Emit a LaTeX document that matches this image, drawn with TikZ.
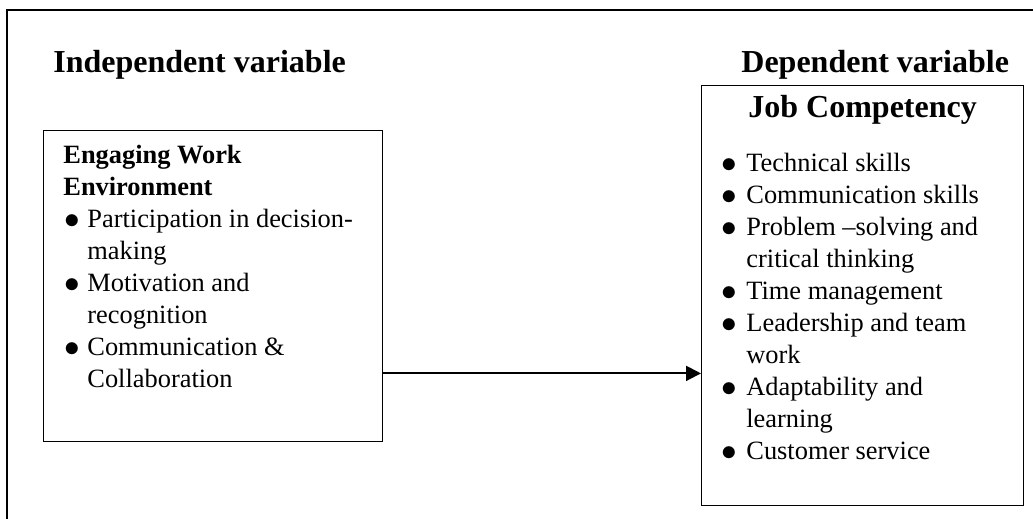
\documentclass[tikz,border=0pt]{standalone}
\usepackage{fontspec}
\setmainfont{Liberation Serif}
\usetikzlibrary{arrows.meta}
\newcommand{\bul}[1][12pt]{\makebox[#1][l]{\hspace{0.5pt}\raisebox{-0.3pt}{\scalebox{1.3}{$\bullet$}}}}
\newcommand{\nobul}[1][12pt]{\hspace*{#1}}

\begin{document}
\begin{tikzpicture}[x=0.5pt, y=0.5pt,
	box/.style={draw, line width=0.7pt, inner sep=0pt, anchor=north west},
	head/.style={anchor=base west, inner sep=0pt, font=\fontsize{16}{19}\selectfont\bfseries},
	items/.style={anchor=base west, inner sep=0pt, align=left, font=\fontsize{13.2}{16}\selectfont}]
	
	\useasboundingbox (0,0) rectangle (1033,519);
	\draw [line width=1pt] (7,0) |- (1033,509);
	
	\node [head] (ivhead) at (53,446) {Independent variable};
	\node [head] (dvhead) at (741,446) {Dependent variable};
	
	% multi-line nodes: base is the last line
	\node [box, minimum width=169.5pt, minimum height=155.5pt] (iv) at (43,389) {};
	\node [items] (ivtext) at (63,131) {\textbf{Engaging Work}\\
		\textbf{Environment}\\
		\bul Participation in decision-\\
		\nobul making\\
		\bul Motivation and\\
		\nobul recognition\\
		\bul Communication \&\\
		\nobul Collaboration};
	
	\node [box, minimum width=161pt, minimum height=210pt] (dv) at (701,434) {};
	\node [head] (dvtitle) at (748,401) {Job Competency};
	\node [items] (dvtext) at (720,59) {\bul[13pt]Technical skills\\
		\bul[13pt]Communication skills\\
		\bul[13pt]Problem –solving and\\
		\nobul[13pt]critical thinking\\
		\bul[13pt]Time management\\
		\bul[13pt]Leadership and team\\
		\nobul[13pt]work\\
		\bul[13pt]Adaptability and\\
		\nobul[13pt]learning\\
		\bul[13pt]Customer service};
	
	\draw [line width=1pt, -{Triangle[length=7.5pt, width=7.5pt]}] ([yshift=34.5pt]iv.south east) coordinate (a) -- (a -| dv.west);
\end{tikzpicture}
\end{document}
